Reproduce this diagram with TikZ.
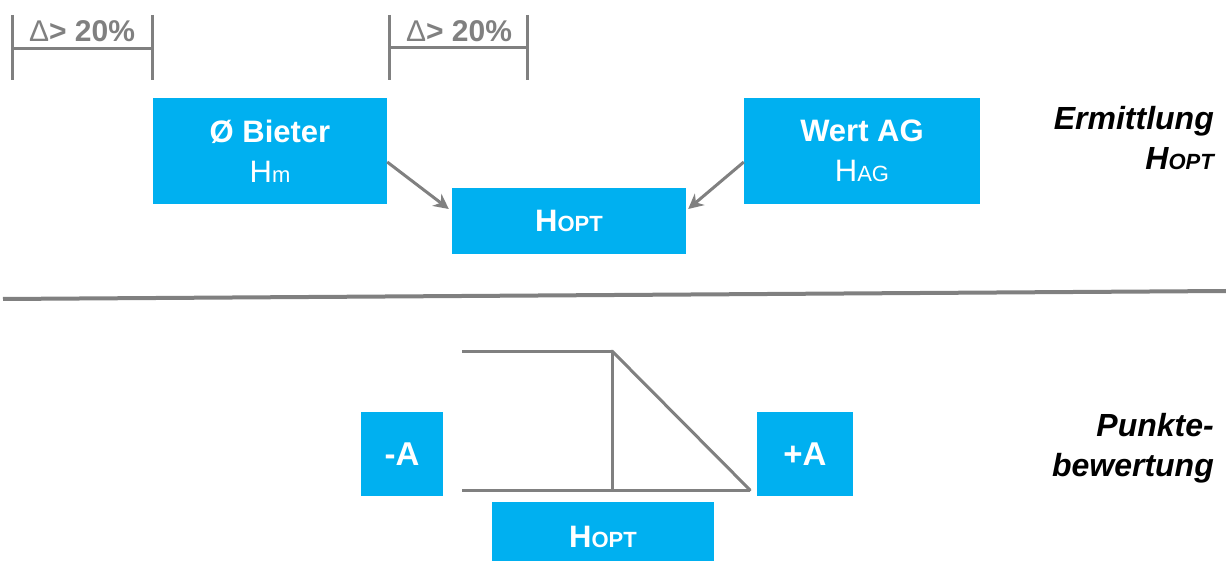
\documentclass[tikz,border=0pt]{standalone}
\usepackage{fontspec}
\setmainfont{Liberation Sans}
\usetikzlibrary{arrows.meta}
\definecolor{boxblue}{HTML}{00B0F0}
\definecolor{linegray}{HTML}{808080}
\newcommand{\smallsub}[1]{{\fontsize{22}{22}\selectfont #1}}
\tikzset{
  bluebox/.style={fill=boxblue, draw=none, text=white, align=center, inner sep=0pt, font=\fontsize{31}{40}\selectfont},
  glines/.style={draw=linegray, line width=3pt},
  arr/.style={draw=linegray, line width=3pt, -{Stealth[length=15pt,width=15pt]}},
  sidelbl/.style={font=\fontsize{32}{40}\selectfont\bfseries\itshape, align=right, anchor=east, inner sep=0pt},
  dlbl/.style={text=linegray, font=\fontsize{30}{36}\selectfont\bfseries, inner sep=0pt, anchor=base}
}
\begin{document}
\begin{tikzpicture}[x=1pt,y=-1pt]
\clip (0,0) rectangle (1226,561);
\fill[white] (0,0) rectangle (1226,561);

% brackets
\coordinate (b1a) at (12,15); \coordinate (b1b) at (12,80);
\coordinate (b1c) at (152,15); \coordinate (b1d) at (152,80);
\coordinate (b1l) at (12,49); \coordinate (b1r) at (152,49);
\draw[glines] (b1a) -- (b1b);
\draw[glines] (b1c) -- (b1d);
\draw[glines] (b1l) -- (b1r);
\node[dlbl] (d1) at (82,42) {{\mdseries Δ}> 20\%};

\coordinate (b2a) at (389,15); \coordinate (b2b) at (389,80);
\coordinate (b2c) at (527,15); \coordinate (b2d) at (527,80);
\coordinate (b2l) at (389,48); \coordinate (b2r) at (527,48);
\draw[glines] (b2a) -- (b2b);
\draw[glines] (b2c) -- (b2d);
\draw[glines] (b2l) -- (b2r);
\node[dlbl] (d2) at (459,42) {{\mdseries Δ}> 20\%};

% top boxes
\node[bluebox, minimum width=234pt, minimum height=106pt] (bieter) at (270,151) {\textbf{Ø Bieter}\\H\smallsub{m}};
\node[bluebox, minimum width=236pt, minimum height=106pt] (wert) at (862,151) {\textbf{Wert AG}\\H\smallsub{AG}};
\node[bluebox, minimum width=234pt, minimum height=66pt] (hopt1) at (569,221) {\textbf{H\smallsub{OPT}}};

\draw[arr] ([yshift=-11pt]bieter.east) -- ([xshift=-3pt,yshift=12pt]hopt1.west);
\draw[arr] ([yshift=-11pt]wert.west) -- ([xshift=2pt,yshift=12pt]hopt1.east);

\node[sidelbl] (erm) at (1214,138) {Ermittlung\\H\smallsub{OPT}};

% separator
\coordinate (s1) at (3,299);
\coordinate (s2) at (1226,291);
\draw[draw=linegray, line width=4pt] (s1) -- (s2);

% bottom
\coordinate (t1) at (462,351); \coordinate (t2) at (612,351);
\coordinate (m1) at (612,490); \coordinate (u1) at (462,490); \coordinate (u2) at (750,490);
\draw[glines] (t1) -- (t2);
\draw[glines] (t2) -- (m1);
\draw[glines, line cap=round] (t2) -- (u2);
\draw[glines] (u1) -- (u2);

\node[bluebox, font=\fontsize{33}{40}\selectfont, minimum width=82pt, minimum height=84pt] (minus) at (402,454) {\textbf{-A}};
\node[bluebox, font=\fontsize{33}{40}\selectfont, minimum width=96pt, minimum height=84pt] (plus) at (805,454) {\textbf{+A}};
\node[bluebox, minimum width=222pt, minimum height=70pt] (hopt2) at (603,537) {\textbf{H\smallsub{OPT}}};

\node[sidelbl] (pkt) at (1214,448) {Punkte-\\bewertung};
\end{tikzpicture}
\end{document}
